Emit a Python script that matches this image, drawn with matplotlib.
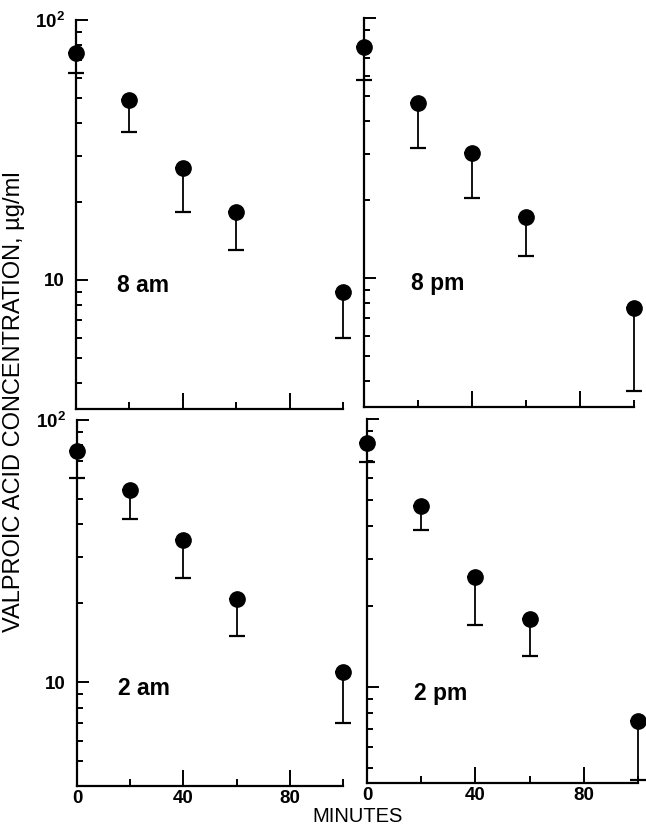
import matplotlib
matplotlib.use("Agg")
import matplotlib.pyplot as plt
from matplotlib.ticker import LogLocator, NullFormatter, FixedLocator
import numpy as np

plt.rcParams['font.family'] = ['Liberation Sans', 'DejaVu Sans']
plt.rcParams['mathtext.fontset'] = 'custom'
plt.rcParams['mathtext.rm'] = 'Liberation Sans:bold'
plt.rcParams['mathtext.bf'] = 'Liberation Sans:bold'

# ---- data ----
minutes = [0, 20, 40, 60, 100]

am8_mean = [74.5, 49.2, 27.0, 18.2, 9.0]
am8_low = [62.7, 37.0, 18.2, 13.0, 6.0]

pm8_mean = [77.1, 47.1, 30.3, 17.2, 7.7]
pm8_low = [58.0, 31.6, 20.3, 12.1, 3.66]

am2_mean = [76.4, 54.0, 34.8, 20.8, 11.0]
am2_low = [59.9, 42.1, 25.1, 15.0, 7.0]

pm2_mean = [81.3, 47.2, 25.8, 18.0, 7.5]
pm2_low = [69.2, 38.5, 17.0, 13.1, 4.5]

panel_labels = ["8 am", "8 pm", "2 am", "2 pm"]
y_major = [10, 100]
y_major_labels = ["10", r"$\mathbf{10^{2}}$"]
x_major = [40, 80]
x_major_labels = ["0", "40", "80"]
x_minor = [20, 60, 100]
ylabel = "VALPROIC ACID CONCENTRATION, \u00b5g/ml"
xlabel = "MINUTES"

W, H = 646, 827
fig = plt.figure(figsize=(W / 100, H / 100), dpi=100)

def frac(x0, x1, y0, y1):
    return [x0 / W, 1 - y1 / H, (x1 - x0) / W, (y1 - y0) / H]

panels = [
    dict(rect=frac(76, 343, 20, 409), mean=am8_mean, low=am8_low, ylim=(3.19, 100), left=True, bottom=False, lab=panel_labels[0], lx=15.5),
    dict(rect=frac(364, 634, 18, 407), mean=pm8_mean, low=pm8_low, ylim=(3.19, 100), left=False, bottom=False, lab=panel_labels[1], lx=17.5),
    dict(rect=frac(77, 343, 420, 786), mean=am2_mean, low=am2_low, ylim=(4.03, 100), left=True, bottom=True, lab=panel_labels[2], lx=15.5),
    dict(rect=frac(367, 638, 419, 783), mean=pm2_mean, low=pm2_low, ylim=(4.39, 100), left=False, bottom=True, lab=panel_labels[3], lx=17.5),
]

for p in panels:
    ax = fig.add_axes(p["rect"])
    mean = np.array(p["mean"])
    low = np.array(p["low"])
    ax.errorbar(minutes, mean, yerr=[mean - low, np.zeros_like(mean)], fmt='none',
                ecolor='black', elinewidth=1.3, capsize=6, capthick=1.6, clip_on=False, zorder=2)
    ax.plot(minutes, mean, 'o', color='black', markersize=11, clip_on=False, zorder=3)
    ax.set_yscale('log')
    ax.set_ylim(*p["ylim"])
    ax.set_xlim(0, 100)
    for s in ['top', 'right']:
        ax.spines[s].set_visible(False)
    for s in ['left', 'bottom']:
        ax.spines[s].set_linewidth(1.6)
    ax.yaxis.set_major_locator(FixedLocator(y_major))
    ax.yaxis.set_minor_locator(LogLocator(base=10, subs=np.arange(2, 10)))
    ax.yaxis.set_minor_formatter(NullFormatter())
    if p["left"]:
        ax.set_yticklabels(y_major_labels, fontsize=13.5, fontweight='bold')
    else:
        ax.set_yticklabels([])
    ax.set_xticks(x_major)
    ax.set_xticks(x_minor, minor=True)
    if p["bottom"]:
        ax.set_xticks([0] + x_major)
        ax.set_xticklabels(x_major_labels, fontsize=13.5, fontweight='bold')
        ax.xaxis.get_major_ticks()[0].tick1line.set_visible(False)
        ax.tick_params(axis='x', which='major', length=11.5, width=1.4, direction='in', pad=3)
    else:
        ax.set_xticklabels([])
        ax.tick_params(axis='x', which='major', length=11.5, width=1.4, direction='in')
    ax.tick_params(axis='x', which='minor', length=5, width=1.4, direction='in')
    ax.tick_params(axis='y', which='major', length=8.6, width=1.4, direction='in', pad=8)
    ax.tick_params(axis='y', which='minor', length=4.3, width=1.4, direction='in')
    ax.tick_params(top=False, right=False, which='both')
    ax.text(p["lx"], 9.5, p["lab"], fontsize=16.5, fontweight='bold', ha='left', va='center')

fig.text(14 / W, 1 - 402 / H, ylabel, rotation=90, ha='center', va='center', fontsize=17)
fig.text(358 / W, 1 - 817 / H, xlabel, ha='center', va='center', fontsize=14.5)

fig.savefig("out.png", dpi=100, facecolor='white')
